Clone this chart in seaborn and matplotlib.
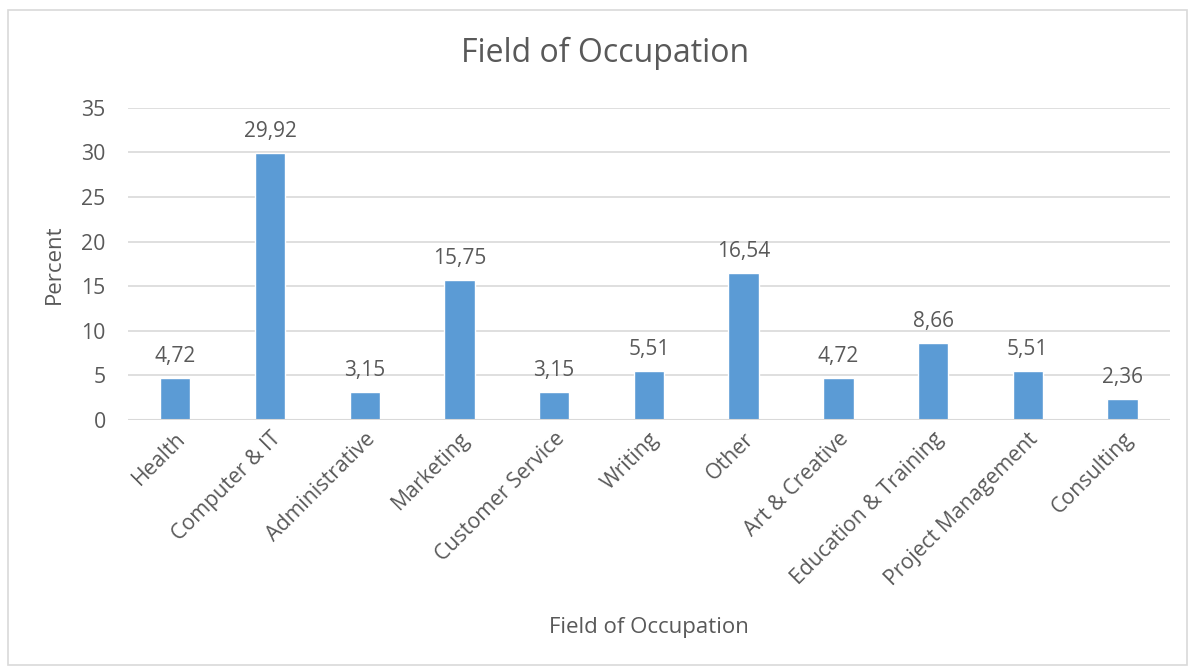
import matplotlib
matplotlib.use("Agg")
import matplotlib.pyplot as plt
import seaborn as sns
import pandas as pd
from matplotlib.patches import Rectangle

# values
fields = ["Health", "Computer & IT", "Administrative", "Marketing",
          "Customer Service", "Writing", "Other", "Art & Creative",
          "Education & Training", "Project Management", "Consulting"]
percent = [4.72, 29.92, 3.15, 15.75, 3.15, 5.51, 16.54, 4.72, 8.66, 5.51, 2.36]
yticks = [0, 5, 10, 15, 20, 25, 30, 35]

TXT = '#595959'
BAR = '#5B9BD5'
GRID = '#D9D9D9'

sns.set_theme(style="white")
plt.rcParams['font.family'] = ['Open Sans', 'DejaVu Sans']

df = pd.DataFrame({"field": fields, "percent": percent})

fig = plt.figure(figsize=(11.95, 6.7), dpi=100)
ax = fig.add_axes([0.107, 0.373, 0.872, 0.466])

sns.barplot(data=df, x="field", y="percent", color=BAR, width=0.32,
            saturation=1, ax=ax, zorder=3)

ax.set_ylim(0, 35)
ax.set_yticks(yticks)
ax.yaxis.grid(True, color=GRID, lw=1.2, zorder=0)
ax.set_axisbelow(True)
for s in ax.spines.values():
    s.set_visible(False)
ax.axhline(0, color=GRID, lw=1.5, zorder=4)

ax.tick_params(axis='both', length=0, colors=TXT, labelsize=15.3)
ax.tick_params(axis='y', pad=16)
ax.set_xticks(range(len(fields)))
ax.set_xticklabels(fields, rotation=45, ha='right', rotation_mode='anchor')
ax.tick_params(axis='x', pad=6)

# data labels in the comma-decimal style of the original
for i, v in enumerate(percent):
    ax.text(i, v + 1.2, f"{v:.2f}".replace('.', ','), ha='center', va='bottom',
            color=TXT, fontsize=15)

ax.set_xlabel("Field of Occupation", color=TXT, fontsize=16, labelpad=20)
ax.set_ylabel("Percent", color=TXT, fontsize=16, labelpad=12)

fig.text(0.506, 0.921, "Field of Occupation", ha='center', va='center',
         color=TXT, fontsize=23)

# light frame around the chart area
fig.patches.append(Rectangle((0.007, 0.008), 0.986, 0.977, transform=fig.transFigure,
                             fill=False, ec='#D9D9D9', lw=1.2))

fig.savefig("out.png", dpi=100)
